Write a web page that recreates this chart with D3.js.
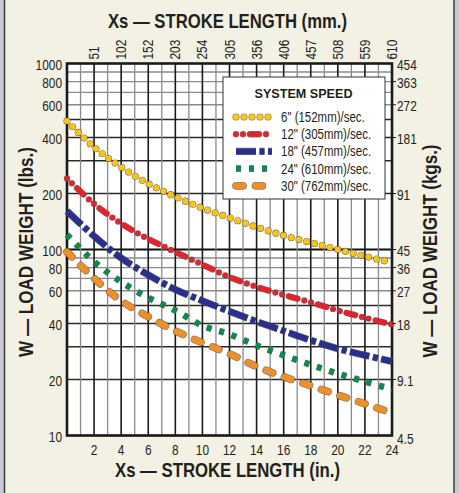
<!DOCTYPE html>
<html>
<head>
<meta charset="utf-8">
<script src="https://cdn.jsdelivr.net/npm/d3@7"></script>
<style>
  html, body { margin: 0; padding: 0; background: #c9c9d6; }
  svg { display: block; }
  text { font-family: "Liberation Sans", Arial, sans-serif; fill: #231f20; }
</style>
</head>
<body>
<svg id="chart" width="459" height="493"></svg>
<script>
// Stroke length (inches) at which each curve is sampled
const strokeIn = [0, 2, 4, 6, 8, 10, 12, 14, 16, 18, 20, 22, 24];

// Load weight (lbs.) for each system speed
const speed6  = [490, 355, 277, 226, 192, 167, 148, 132, 119, 109, 100, 92, 85];
const speed12 = [241, 176, 138, 114, 97, 83, 71, 63, 57, 52, 47, 43, 39.5];
const speed18 = [161, 118, 90, 73, 61, 53, 46.5, 41, 36.5, 32.5, 29.3, 27, 25];
const speed24 = [120, 86, 67, 55, 47, 39, 35, 30.5, 27, 24, 21.5, 19.5, 17.7];
const speed30 = [97, 70, 53, 43.5, 36.5, 31.5, 27.5, 23.5, 20.7, 18.5, 16.5, 14.8, 13.2];

const seriesLabels = ['6" (152mm)/sec.', '12" (305mm)/sec.', '18" (457mm)/sec.', '24" (610mm)/sec.', '30" (762mm)/sec.'];

// Axis labels
const inchTicks = [2, 4, 6, 8, 10, 12, 14, 16, 18, 20, 22, 24];
const mmLabels  = ['51', '102', '152', '203', '254', '305', '356', '406', '457', '508', '559', '610'];
const lbsTicks  = [1000, 800, 600, 400, 200, 100, 80, 60, 40, 20, 10];
const kgLabels  = ['454', '363', '272', '181', '91', '45', '36', '27', '18', '9.1', '4.5'];

const NARROW = 0.82;   // horizontal squeeze giving a condensed face

const svg = d3.select('#chart');

// Cream panel with dark side rules
svg.append('rect').attr('x', 4).attr('y', 0).attr('width', 450).attr('height', 493).attr('fill', '#f2f1e3');
svg.append('line').attr('x1', 4.5).attr('x2', 4.5).attr('y1', 0).attr('y2', 493).attr('stroke', '#3a3a40').attr('stroke-width', 1.5);
svg.append('line').attr('x1', 454).attr('x2', 454).attr('y1', 0).attr('y2', 493).attr('stroke', '#3a3a40').attr('stroke-width', 1.5);

const x = d3.scaleLinear().domain([0, 24]).range([67, 392]);
const y = d3.scaleLog().domain([10, 1000]).range([435.5, 63.5]);

// Plot background
svg.append('rect')
  .attr('x', x(0)).attr('y', y(1000))
  .attr('width', x(24) - x(0)).attr('height', y(10) - y(1000))
  .attr('fill', '#ffffff');

const grid = svg.append('g');

// Horizontal grid: every 1..9 step of each decade
const hVals = [];
[10, 100].forEach(dec => { for (let m = 1; m <= 9; m++) hVals.push(m * dec); });
hVals.forEach(v => {
  const m = Math.round(v / (v >= 100 ? 100 : 10));
  const dark = (m >= 2 && m <= 5);
  grid.append('line')
    .attr('x1', x(0)).attr('x2', x(24))
    .attr('y1', y(v)).attr('y2', y(v))
    .attr('stroke', v === 100 ? '#111' : (dark ? '#2a2a2a' : '#8a8a8a'))
    .attr('stroke-width', v === 100 ? 2.2 : 1.3);
});

// Vertical grid: every inch, darker on even inches
d3.range(1, 24).forEach(i => {
  grid.append('line')
    .attr('x1', x(i)).attr('x2', x(i))
    .attr('y1', y(1000)).attr('y2', y(10))
    .attr('stroke', i % 2 === 0 ? '#1a1a1a' : '#8a8a8a')
    .attr('stroke-width', i % 2 === 0 ? 1.6 : 1.3);
});

// Plot frame
svg.append('rect')
  .attr('x', x(0)).attr('y', y(1000))
  .attr('width', x(24) - x(0)).attr('height', y(10) - y(1000))
  .attr('fill', 'none').attr('stroke', '#1a1a1a').attr('stroke-width', 2.6);

// Series styles
const styles = [
  { color: '#ffc40c', width: 6,   dash: '0,8',              cap: 'round' },
  { color: '#e8202a', width: 5.2, dash: '0,7,0,7,9,7',      cap: 'round' },
  { color: '#2a2f8e', width: 6,   dash: '20,3.5,5,3.5',     cap: 'butt'  },
  { color: '#0b8a4c', width: 5.5, dash: '5,8',              cap: 'butt'  },
  { color: '#ef8f27', width: 6.5, dash: '7,12.5',           cap: 'round' }
];
const seriesValues = [speed6, speed12, speed18, speed24, speed30];

const line = d3.line()
  .x(d => x(d[0]))
  .y(d => y(d[1]))
  .curve(d3.curveCatmullRom.alpha(0.5));

const curves = svg.append('g');
seriesValues.forEach((vals, k) => {
  const pts = strokeIn.map((s, i) => [s, vals[i]]);
  const st = styles[k];
  // thin dark outline under each mark
  curves.append('path').datum(pts).attr('d', line)
    .attr('fill', 'none').attr('stroke', '#4a4a4a').attr('stroke-opacity', 0.75)
    .attr('stroke-width', st.width + 1.2).attr('stroke-linecap', st.cap)
    .attr('stroke-dasharray', st.dash);
  curves.append('path').datum(pts).attr('d', line)
    .attr('fill', 'none').attr('stroke', st.color)
    .attr('stroke-width', st.width).attr('stroke-linecap', st.cap)
    .attr('stroke-dasharray', st.dash);
});

// Bottom axis (inches)
svg.append('g').selectAll('text').data(inchTicks).join('text')
  .attr('transform', d => `translate(${x(d)},455) scale(${NARROW},1)`)
  .attr('text-anchor', 'middle').attr('font-size', 14.5)
  .text(d => d);

// Top axis (millimetres), rotated
svg.append('g').selectAll('text').data(inchTicks).join('text')
  .attr('transform', d => `translate(${x(d) + 5},59.5) rotate(-90) scale(${NARROW},1)`)
  .attr('text-anchor', 'start').attr('font-size', 14.5)
  .text((d, i) => mmLabels[i]);

// Left axis (lbs.)
svg.append('g').selectAll('text').data(lbsTicks).join('text')
  .attr('transform', d => `translate(62,${y(d) + 6.5}) scale(${NARROW},1)`)
  .attr('text-anchor', 'end').attr('font-size', 14.5)
  .text(d => d);

// Right axis (kgs.) with short outside ticks
svg.append('g').selectAll('line').data(lbsTicks.slice(1, -1)).join('line')
  .attr('x1', x(24)).attr('x2', x(24) + 4)
  .attr('y1', d => y(d)).attr('y2', d => y(d))
  .attr('stroke', '#1a1a1a').attr('stroke-width', 1);
svg.append('g').selectAll('text').data(lbsTicks).join('text')
  .attr('transform', (d, i) => `translate(397,${y(d) + (i === lbsTicks.length - 1 ? 8 : 6.5)}) scale(${NARROW},1)`)
  .attr('text-anchor', 'start').attr('font-size', 14.5)
  .text((d, i) => kgLabels[i]);

// Axis titles, condensed to their set length
function title(tf, len, txt) {
  svg.append('text').attr('transform', tf)
    .attr('text-anchor', 'middle').attr('font-size', 21).attr('font-weight', 'bold')
    .attr('textLength', len).attr('lengthAdjust', 'spacingAndGlyphs')
    .text(txt);
}
title('translate(227.5,28)', 239, 'Xs — STROKE LENGTH (mm.)');
title('translate(227.5,477)', 225, 'Xs — STROKE LENGTH (in.)');
title('translate(33,252) rotate(-90)', 210, 'W — LOAD WEIGHT (lbs.)');
title('translate(437,251) rotate(-90)', 213, 'W — LOAD WEIGHT (kgs.)');

// Legend
const lg = svg.append('g');
lg.append('rect').attr('x', 223).attr('y', 77).attr('width', 162).attr('height', 122)
  .attr('fill', '#ffffff').attr('stroke', '#333').attr('stroke-width', 1);
lg.append('text').attr('x', 303.5).attr('y', 98)
  .attr('text-anchor', 'middle').attr('font-size', 12.5).attr('font-weight', 'bold')
  .attr('textLength', 98).attr('lengthAdjust', 'spacingAndGlyphs')
  .text('SYSTEM SPEED');
seriesLabels.forEach((lab, k) => {
  const ry = 117 + k * 17.2;
  const st = styles[k];
  const pts = [[236, ry], [272, ry]];
  const l2 = d3.line();
  lg.append('path').attr('d', l2(pts))
    .attr('fill', 'none').attr('stroke', '#4a4a4a').attr('stroke-opacity', 0.75)
    .attr('stroke-width', st.width + 1.2).attr('stroke-linecap', st.cap)
    .attr('stroke-dasharray', st.dash);
  lg.append('path').attr('d', l2(pts))
    .attr('fill', 'none').attr('stroke', st.color)
    .attr('stroke-width', st.width).attr('stroke-linecap', st.cap)
    .attr('stroke-dasharray', st.dash);
  lg.append('text').attr('transform', `translate(281,${ry + 5}) scale(${NARROW},1)`)
    .attr('font-size', 14).text(lab);
});
</script>
</body>
</html>
